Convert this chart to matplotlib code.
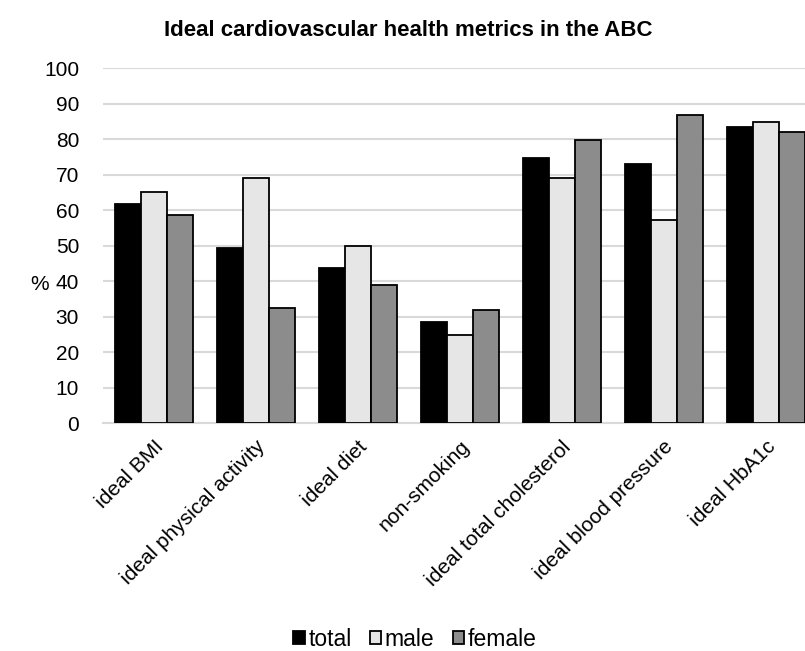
import numpy as np
import matplotlib.pyplot as plt
from matplotlib.patches import Patch

plt.rcParams['font.family'] = ['Liberation Sans', 'DejaVu Sans']

# chart data
categories = ['ideal BMI', 'ideal physical activity', 'ideal diet', 'non-smoking',
              'ideal total cholesterol', 'ideal blood pressure', 'ideal HbA1c']
total = [61.7, 49.4, 43.9, 28.5, 74.7, 73.0, 83.4]
male = [65.3, 69.0, 49.9, 25.0, 69.2, 57.4, 85.0]
female = [58.8, 32.5, 38.9, 31.8, 79.9, 86.8, 82.2]
series_names = ['total', 'male', 'female']
colors = ['#000000', '#e6e6e6', '#8c8c8c']

fig = plt.figure(figsize=(8.05, 6.51), dpi=100)
ax = fig.add_axes([0.1276, 0.3498, 0.8724, 0.545])

x = np.arange(len(categories))
w = 0.255
for i, (vals, c) in enumerate(zip([total, male, female], colors)):
    ax.bar(x + (i - 1) * w, vals, width=w, color=c, edgecolor='black',
           linewidth=1.3, zorder=3)

ax.set_ylim(0, 100)
ax.set_xlim(-0.5, 6.387)
ax.set_yticks(range(0, 101, 10))
ax.yaxis.grid(True, color='#d9d9d9', linewidth=1.5, zorder=0)
ax.set_axisbelow(True)
for s in ['top', 'right', 'left']:
    ax.spines[s].set_visible(False)
ax.spines['bottom'].set_color('#d9d9d9')
ax.spines['bottom'].set_linewidth(1.5)
ax.tick_params(length=0, labelsize=15)
ax.tick_params(axis='y', pad=17)
ax.tick_params(axis='x', pad=10)
ax.set_xticks(x)
ax.set_xticklabels(categories, rotation=45, ha='right', rotation_mode='anchor')

fig.text(40 / 805, 1 - 285 / 651, '%', fontsize=15, ha='center', va='center')
fig.text(408 / 805, 1 - 30 / 651, 'Ideal cardiovascular health metrics in the ABC',
         fontsize=16, fontweight='bold', ha='center', va='center')

handles = [Patch(facecolor=c, edgecolor='black', linewidth=1.3) for c in colors]
fig.legend(handles, series_names, loc='center', bbox_to_anchor=(415 / 805, 1 - 639 / 651),
           ncol=3, frameon=False, fontsize=16.5, handlelength=0.5, handleheight=0.5,
           handletextpad=0.15, columnspacing=0.8)

fig.savefig('out.png', dpi=100)
